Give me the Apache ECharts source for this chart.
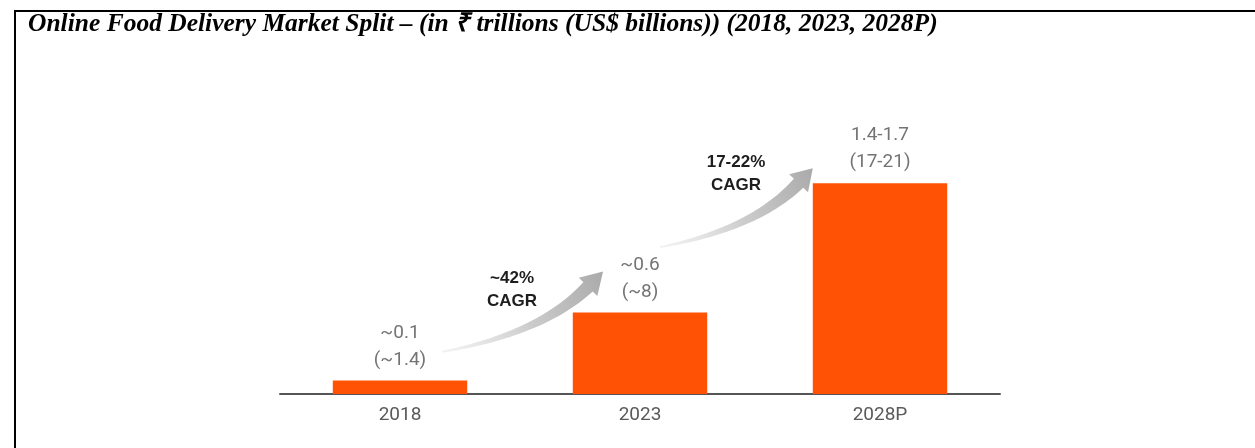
<!DOCTYPE html>
<html>
<head>
<meta charset="utf-8">
<script src="https://cdn.jsdelivr.net/npm/echarts@6/dist/echarts.min.js"></script>
<style>
html,body{margin:0;padding:0;background:#fff;}
#chart{width:1255px;height:448px;}
</style>
</head>
<body>
<div id="chart"></div>
<script>
const categories = ['2018', '2023', '2028P'];
const marketValues = [0.1, 0.6, 1.55];
const inrLabels = ['~0.1', '~0.6', '1.4-1.7'];
const usdLabels = ['(~1.4)', '(~8)', '(17-21)'];
const cagrTexts = ['~42%\nCAGR', '17-22%\nCAGR'];

const titleText = 'Online Food Delivery Market Split \u2013 (in \u20B9 trillions (US$ billions)) (2018, 2023, 2028P)';

const chart = echarts.init(document.getElementById('chart'), null, {renderer: 'canvas'});

chart.setOption({
  animation: false,
  backgroundColor: '#ffffff',
  title: {
    text: titleText,
    left: 28,
    top: 11,
    padding: 0,
    textStyle: {
      fontFamily: '"Liberation Serif", "Times New Roman", serif',
      fontStyle: 'italic',
      fontWeight: 'bold',
      fontSize: 25.5,
      color: '#000'
    }
  },
  grid: {left: 280, right: 255, top: 122, bottom: 54},
  xAxis: {
    type: 'category',
    data: categories,
    axisTick: {show: false},
    axisLine: {lineStyle: {color: '#555', width: 2}},
    axisLabel: {
      color: '#5a5a5a',
      fontSize: 19,
      fontFamily: 'Roboto, sans-serif',
      margin: 12
    }
  },
  yAxis: {type: 'value', min: 0, max: 2, show: false},
  series: [{
    type: 'bar',
    data: marketValues,
    barWidth: '56%',
    itemStyle: {color: '#FF5205'},
    label: {
      show: true,
      position: 'top',
      distance: 7,
      formatter: function (p) {
        return inrLabels[p.dataIndex] + '\n' + usdLabels[p.dataIndex];
      },
      color: '#747474',
      fontSize: 19,
      lineHeight: 27,
      fontFamily: 'Roboto, sans-serif'
    }
  }]
});

// Annotation arrows between consecutive bars, anchored to axis positions
const arrowDefs = [
  {from: 0, tailFrac: 0.175, tailVal: 0.31, tipFrac: 0.846, tipVal: 0.90, labelFrac: 0.467, labelVal: 0.935},
  {from: 1, tailFrac: 0.083, tailVal: 1.08, tipFrac: 0.72, tipVal: 1.66, labelFrac: 0.40, labelVal: 1.785}
];

function px(catIdx, frac, val) {
  const c0 = chart.convertToPixel({xAxisIndex: 0}, categories[catIdx]);
  const c1 = chart.convertToPixel({xAxisIndex: 0}, categories[catIdx + 1]);
  const y = chart.convertToPixel({yAxisIndex: 0}, val);
  return [c0 + (c1 - c0) * frac, y];
}

const graphics = [];
// frame lines
graphics.push({type: 'rect', shape: {x: 14, y: 10, width: 1241, height: 2}, style: {fill: '#000'}, silent: true});
graphics.push({type: 'rect', shape: {x: 14, y: 10, width: 2, height: 438}, style: {fill: '#000'}, silent: true});

arrowDefs.forEach(function (a, i) {
  const tail = px(a.from, a.tailFrac, a.tailVal);
  const tip = px(a.from, a.tipFrac, a.tipVal);
  const dx = tip[0] - tail[0], dy = tip[1] - tail[1];
  const P0 = tail;
  const P1 = [tail[0] + 0.615 * dx, tail[1] + 0.225 * dy];
  const P2 = [tail[0] + 0.907 * dx, tail[1] + 0.81 * dy];
  const N = 40;
  const left = [], right = [];
  for (let k = 0; k <= N; k++) {
    const t = k / N;
    const bx = (1 - t) * (1 - t) * P0[0] + 2 * (1 - t) * t * P1[0] + t * t * P2[0];
    const by = (1 - t) * (1 - t) * P0[1] + 2 * (1 - t) * t * P1[1] + t * t * P2[1];
    let tx = 2 * (1 - t) * (P1[0] - P0[0]) + 2 * t * (P2[0] - P1[0]);
    let ty = 2 * (1 - t) * (P1[1] - P0[1]) + 2 * t * (P2[1] - P1[1]);
    const L = Math.hypot(tx, ty);
    tx /= L; ty /= L;
    const nx = -ty, ny = tx;
    const w = 1 + 5.6 * Math.pow(t, 1.1);
    left.push([bx + nx * w, by + ny * w]);
    right.push([bx - nx * w, by - ny * w]);
  }
  let hx = tip[0] - P2[0], hy = tip[1] - P2[1];
  const hl = Math.hypot(hx, hy);
  hx /= hl; hy /= hl;
  const hnx = -hy, hny = hx;
  const hw = 13;
  const wingA = [P2[0] + hnx * hw, P2[1] + hny * hw];
  const wingB = [P2[0] - hnx * hw, P2[1] - hny * hw];
  const pts = left.concat([wingA, tip, wingB]).concat(right.reverse());
  graphics.push({
    type: 'polygon',
    silent: true,
    z: 5,
    shape: {points: pts},
    style: {
      fill: new echarts.graphic.LinearGradient(tail[0], tail[1], tip[0], tip[1], [
        {offset: 0, color: 'rgba(235,235,235,0.6)'},
        {offset: 0.5, color: '#cccccc'},
        {offset: 1, color: '#aaaaaa'}
      ], true)
    }
  });
  const lp = px(a.from, a.labelFrac, a.labelVal);
  graphics.push({
    type: 'text',
    silent: true,
    z: 6,
    x: lp[0],
    y: lp[1],
    style: {
      text: cagrTexts[i],
      align: 'center',
      verticalAlign: 'top',
      fontFamily: '"Liberation Sans", Arial, sans-serif',
      fontWeight: 'bold',
      fontSize: 17,
      lineHeight: 23,
      fill: '#1e1e1e'
    }
  });
});

chart.setOption({graphic: graphics});
</script>
</body>
</html>
